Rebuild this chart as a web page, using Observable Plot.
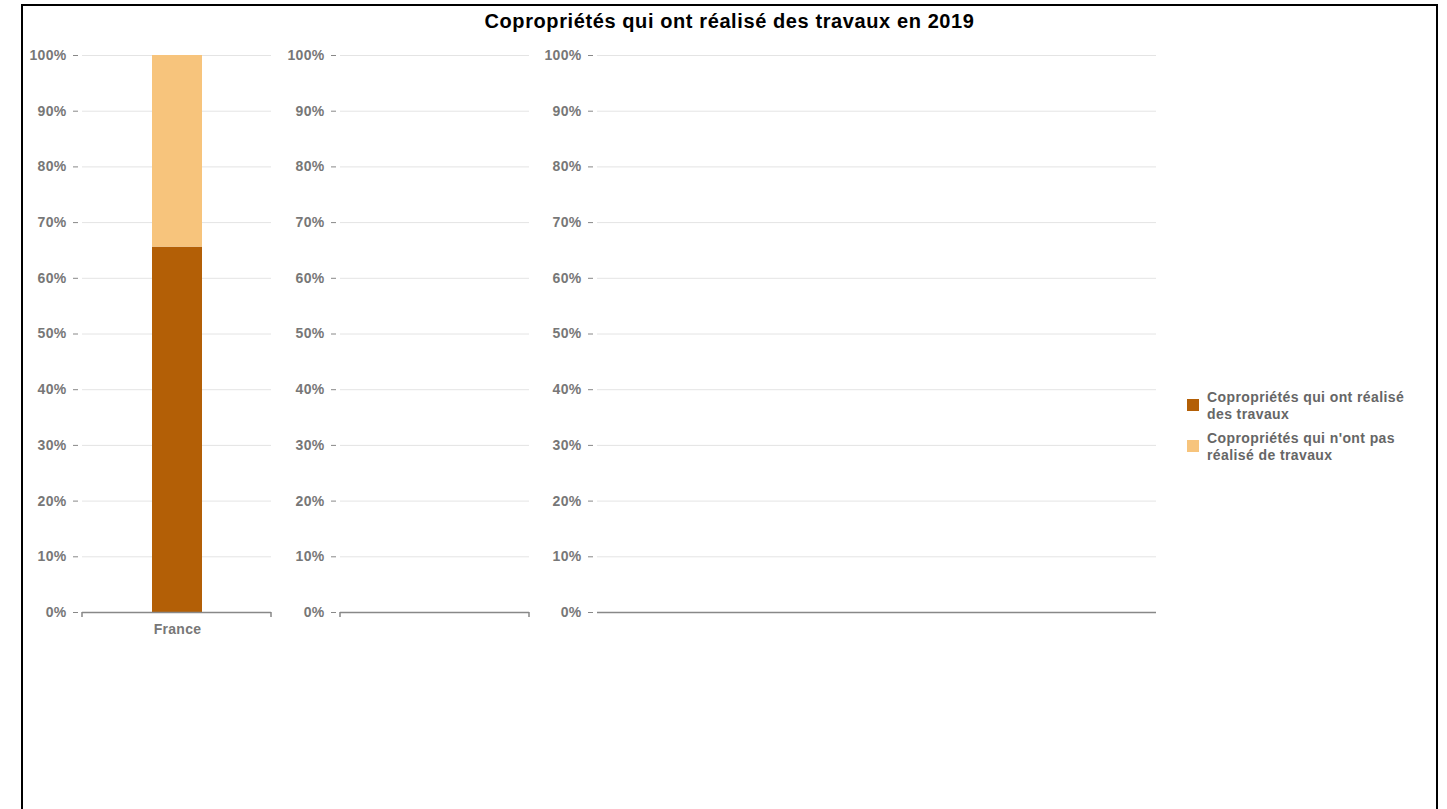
<!DOCTYPE html>
<html>
<head>
<meta charset="utf-8">
<script src="https://cdn.jsdelivr.net/npm/d3@7"></script>
<script src="https://cdn.jsdelivr.net/npm/@observablehq/plot@0.6"></script>
<style>
  body { margin: 0; background: #fff; font-family: "Liberation Sans", Arial, sans-serif; }
  #root { position: relative; width: 1447px; height: 809px; overflow: hidden; }
  #frame { position: absolute; left: 21px; top: 4px; width: 1413px; height: 900px; border: 2px solid #000; box-sizing: content-box; }
  #title { position: absolute; left: 22px; width: 1415px; top: 10px; text-align: center; font-weight: bold; font-size: 20px; letter-spacing: 0.6px; color: #000; }
  .panel { position: absolute; top: 40px; }
  #legend { position: absolute; left: 1187px; top: 389px; }
  .item { display: flex; align-items: flex-start; margin-bottom: 7px; }
  .sw { width: 12px; height: 12px; margin-top: 10px; margin-right: 8px; flex: none; }
  .lab { width: 214px; font-size: 14px; letter-spacing: 0.4px; font-weight: bold; color: #666; line-height: 17px; }
  svg text { letter-spacing: 0.3px; }
</style>
</head>
<body>
<div id="root">
  <div id="frame"></div>
  <div id="title"></div>
  <div id="p1" class="panel"></div>
  <div id="p2" class="panel"></div>
  <div id="p3" class="panel"></div>
  <div id="legend"></div>
</div>
<script>
const titleText = "Copropriétés qui ont réalisé des travaux en 2019";
const categories = ["France"];
const seriesNames = ["Copropriétés qui ont réalisé des travaux", "Copropriétés qui n'ont pas réalisé de travaux"];
const seriesColors = ["#b35f06", "#f7c47c"];
const realise = [0.656];
const nonRealise = [0.344];
const yTicks = [0, 0.1, 0.2, 0.3, 0.4, 0.5, 0.6, 0.7, 0.8, 0.9, 1];

document.getElementById("title").textContent = titleText;

const rows = [];
categories.forEach((c, i) => {
  rows.push({cat: c, series: seriesNames[0], value: realise[i], order: 0});
  rows.push({cat: c, series: seriesNames[1], value: nonRealise[i], order: 1});
});

const axisColor = "#888";
const textColor = "#777";
const ML = 60, MR = 3, MT = 15, MB = 40, H = 612 - 40 + MB;

function endTicks(index, scales, values, dim) {
  const g = d3.create("svg:path");
  const y0 = dim.height - dim.marginBottom;
  const x0 = dim.marginLeft, x1 = dim.width - dim.marginRight;
  g.attr("d", `M${x0},${y0 + 5}V${y0}M${x1},${y0 + 5}V${y0}`)
    .attr("stroke", axisColor).attr("stroke-width", 1.5).attr("fill", "none");
  return g.node();
}

function gridAndAxis() {
  return [
    Plot.gridY(yTicks, {stroke: "#e4e4e4", strokeOpacity: 1}),
    Plot.axisY(yTicks, {tickSize: 5, dx: -4, tickPadding: 7, tickFormat: d3.format(".0%"), stroke: axisColor, fill: textColor, label: null})
  ];
}
function baseline(withEnds) {
  const m = [Plot.ruleY([0], {stroke: axisColor, strokeWidth: 1.5})];
  if (withEnds) m.push(endTicks);
  return m;
}

const common = {
  height: H, marginLeft: ML, marginRight: MR, marginTop: MT, marginBottom: MB,
  style: {fontFamily: "'Liberation Sans', Arial, sans-serif", fontSize: "14px", fontWeight: "bold", color: textColor, background: "transparent", overflow: "visible"},
  y: {domain: [0, 1], axis: null}
};

const p1 = Plot.plot({
  ...common,
  width: 249 + MR,
  x: {domain: categories, padding: 0.58, axis: null},
  color: {domain: seriesNames, range: seriesColors},
  marks: [
    ...gridAndAxis(),
    Plot.barY(rows, Plot.stackY({order: "order"}, {x: "cat", y: "value", fill: "series"})),
    ...baseline(true),
    Plot.axisX({tickSize: 0, tickPadding: 12, fill: textColor, label: null})
  ]
});
const d1 = document.getElementById("p1"); d1.style.left = "22px"; d1.append(p1);

const p2 = Plot.plot({...common, width: 249 + MR, marks: [...gridAndAxis(), ...baseline(true)]});
const d2 = document.getElementById("p2"); d2.style.left = "280px"; d2.append(p2);

const p3 = Plot.plot({...common, width: 559 + ML + MR, marks: [...gridAndAxis(), ...baseline(false)]});
const d3el = document.getElementById("p3"); d3el.style.left = "537px"; d3el.append(p3);

const leg = document.getElementById("legend");
seriesNames.forEach((s, i) => {
  const it = document.createElement("div"); it.className = "item";
  const sw = document.createElement("div"); sw.className = "sw"; sw.style.background = seriesColors[i];
  const lb = document.createElement("div"); lb.className = "lab"; lb.textContent = s;
  it.append(sw, lb); leg.append(it);
});
</script>
</body>
</html>
